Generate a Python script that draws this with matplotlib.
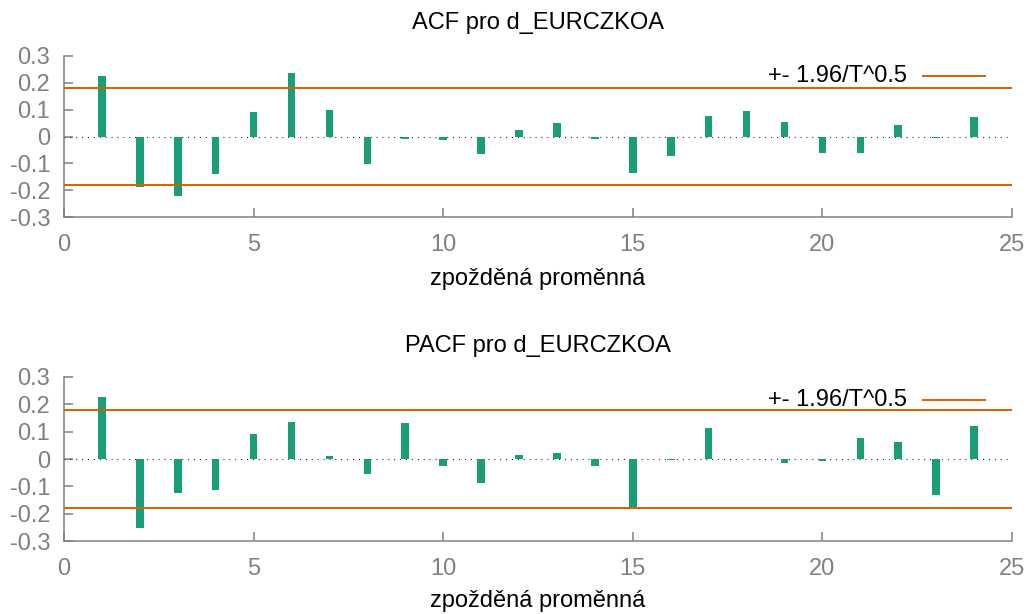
import numpy as np
import matplotlib
matplotlib.use("Agg")
import matplotlib.pyplot as plt

plt.rcParams['font.family'] = ['Liberation Sans', 'DejaVu Sans']

lags = list(range(1, 25))
acf_values = [0.227, -0.189, -0.220, -0.140, 0.090, 0.235, 0.098, -0.101,
              -0.010, -0.014, -0.067, 0.024, 0.050, -0.008, -0.136, -0.072,
              0.077, 0.096, 0.055, -0.060, -0.062, 0.043, -0.004, 0.074]
pacf_values = [0.226, -0.254, -0.125, -0.114, 0.090, 0.136, 0.011, -0.056,
               0.130, -0.027, -0.089, 0.016, 0.021, -0.026, -0.176, -0.004,
               0.115, 0.001, -0.015, -0.009, 0.077, 0.064, -0.131, 0.121]
n_obs = 119
series_name = "d_EURCZKOA"
x_ticks = [0, 5, 10, 15, 20, 25]
y_ticks = [-0.3, -0.2, -0.1, 0, 0.1, 0.2, 0.3]
y_tick_labels = ["-0.3", "-0.2", "-0.1", "0", "0.1", "0.2", "0.3"]

bar_color = "#1b9e77"
band_color = "#d95f02"
axis_gray = "#808080"
band = 1.96 / np.sqrt(n_obs)

W, H = 1031, 614
fig = plt.figure(figsize=(W / 100, H / 100), dpi=100)

left = 64 / W
width = (1012 - 64) / W
ax_top = fig.add_axes([left, 1 - 217 / H, width, 161 / H])
ax_bot = fig.add_axes([left, 1 - 541 / H, width, 164 / H])

# (axes, values, title, title baseline px, xlabel baseline px, key height)
panels = [
    (ax_top, acf_values, f"ACF pro {series_name}", 29, 285, 0.876),
    (ax_bot, pacf_values, f"PACF pro {series_name}", 352, 607, 0.862),
]

x_center = (64 + 1012) / 2 / W

for ax, vals, title, title_y, xlabel_y, key_y in panels:
    ax.bar(lags, vals, width=0.2, color=bar_color, zorder=3)
    ax.axhline(0, color="black", lw=0.8, linestyle=(0, (0.8, 4.5)), zorder=2)
    ax.axhline(band, color=band_color, lw=1.4, zorder=4)
    ax.axhline(-band, color=band_color, lw=1.4, zorder=4)

    ax.set_xlim(0, 25)
    ax.set_ylim(-0.3, 0.3)
    ax.set_xticks(x_ticks)
    ax.set_yticks(y_ticks)
    ax.set_yticklabels(y_tick_labels)

    for s in ("top", "right"):
        ax.spines[s].set_visible(False)
    for s in ("left", "bottom"):
        ax.spines[s].set_color(axis_gray)
        ax.spines[s].set_linewidth(1.1)

    ax.tick_params(axis="both", direction="in", length=6.5, width=1.1,
                   color=axis_gray, labelcolor=axis_gray, labelsize=17)
    ax.tick_params(axis="y", pad=10)
    ax.tick_params(axis="x", pad=12)

    fig.text(x_center, 1 - title_y / H, title, ha="center", va="baseline",
             fontsize=17, color="black")
    fig.text(x_center, 1 - xlabel_y / H, "zpožděná proměnná", ha="center",
             va="baseline", fontsize=17, color="black")

    # key for the confidence band
    ax.plot([0.906, 0.9715], [key_y, key_y], color=band_color, lw=1.4,
            transform=ax.transAxes, clip_on=False)
    ax.text(0.889, key_y, "+- 1.96/T^0.5", transform=ax.transAxes,
            ha="right", va="center", fontsize=17, color="black")

fig.savefig("out.png", dpi=100)
